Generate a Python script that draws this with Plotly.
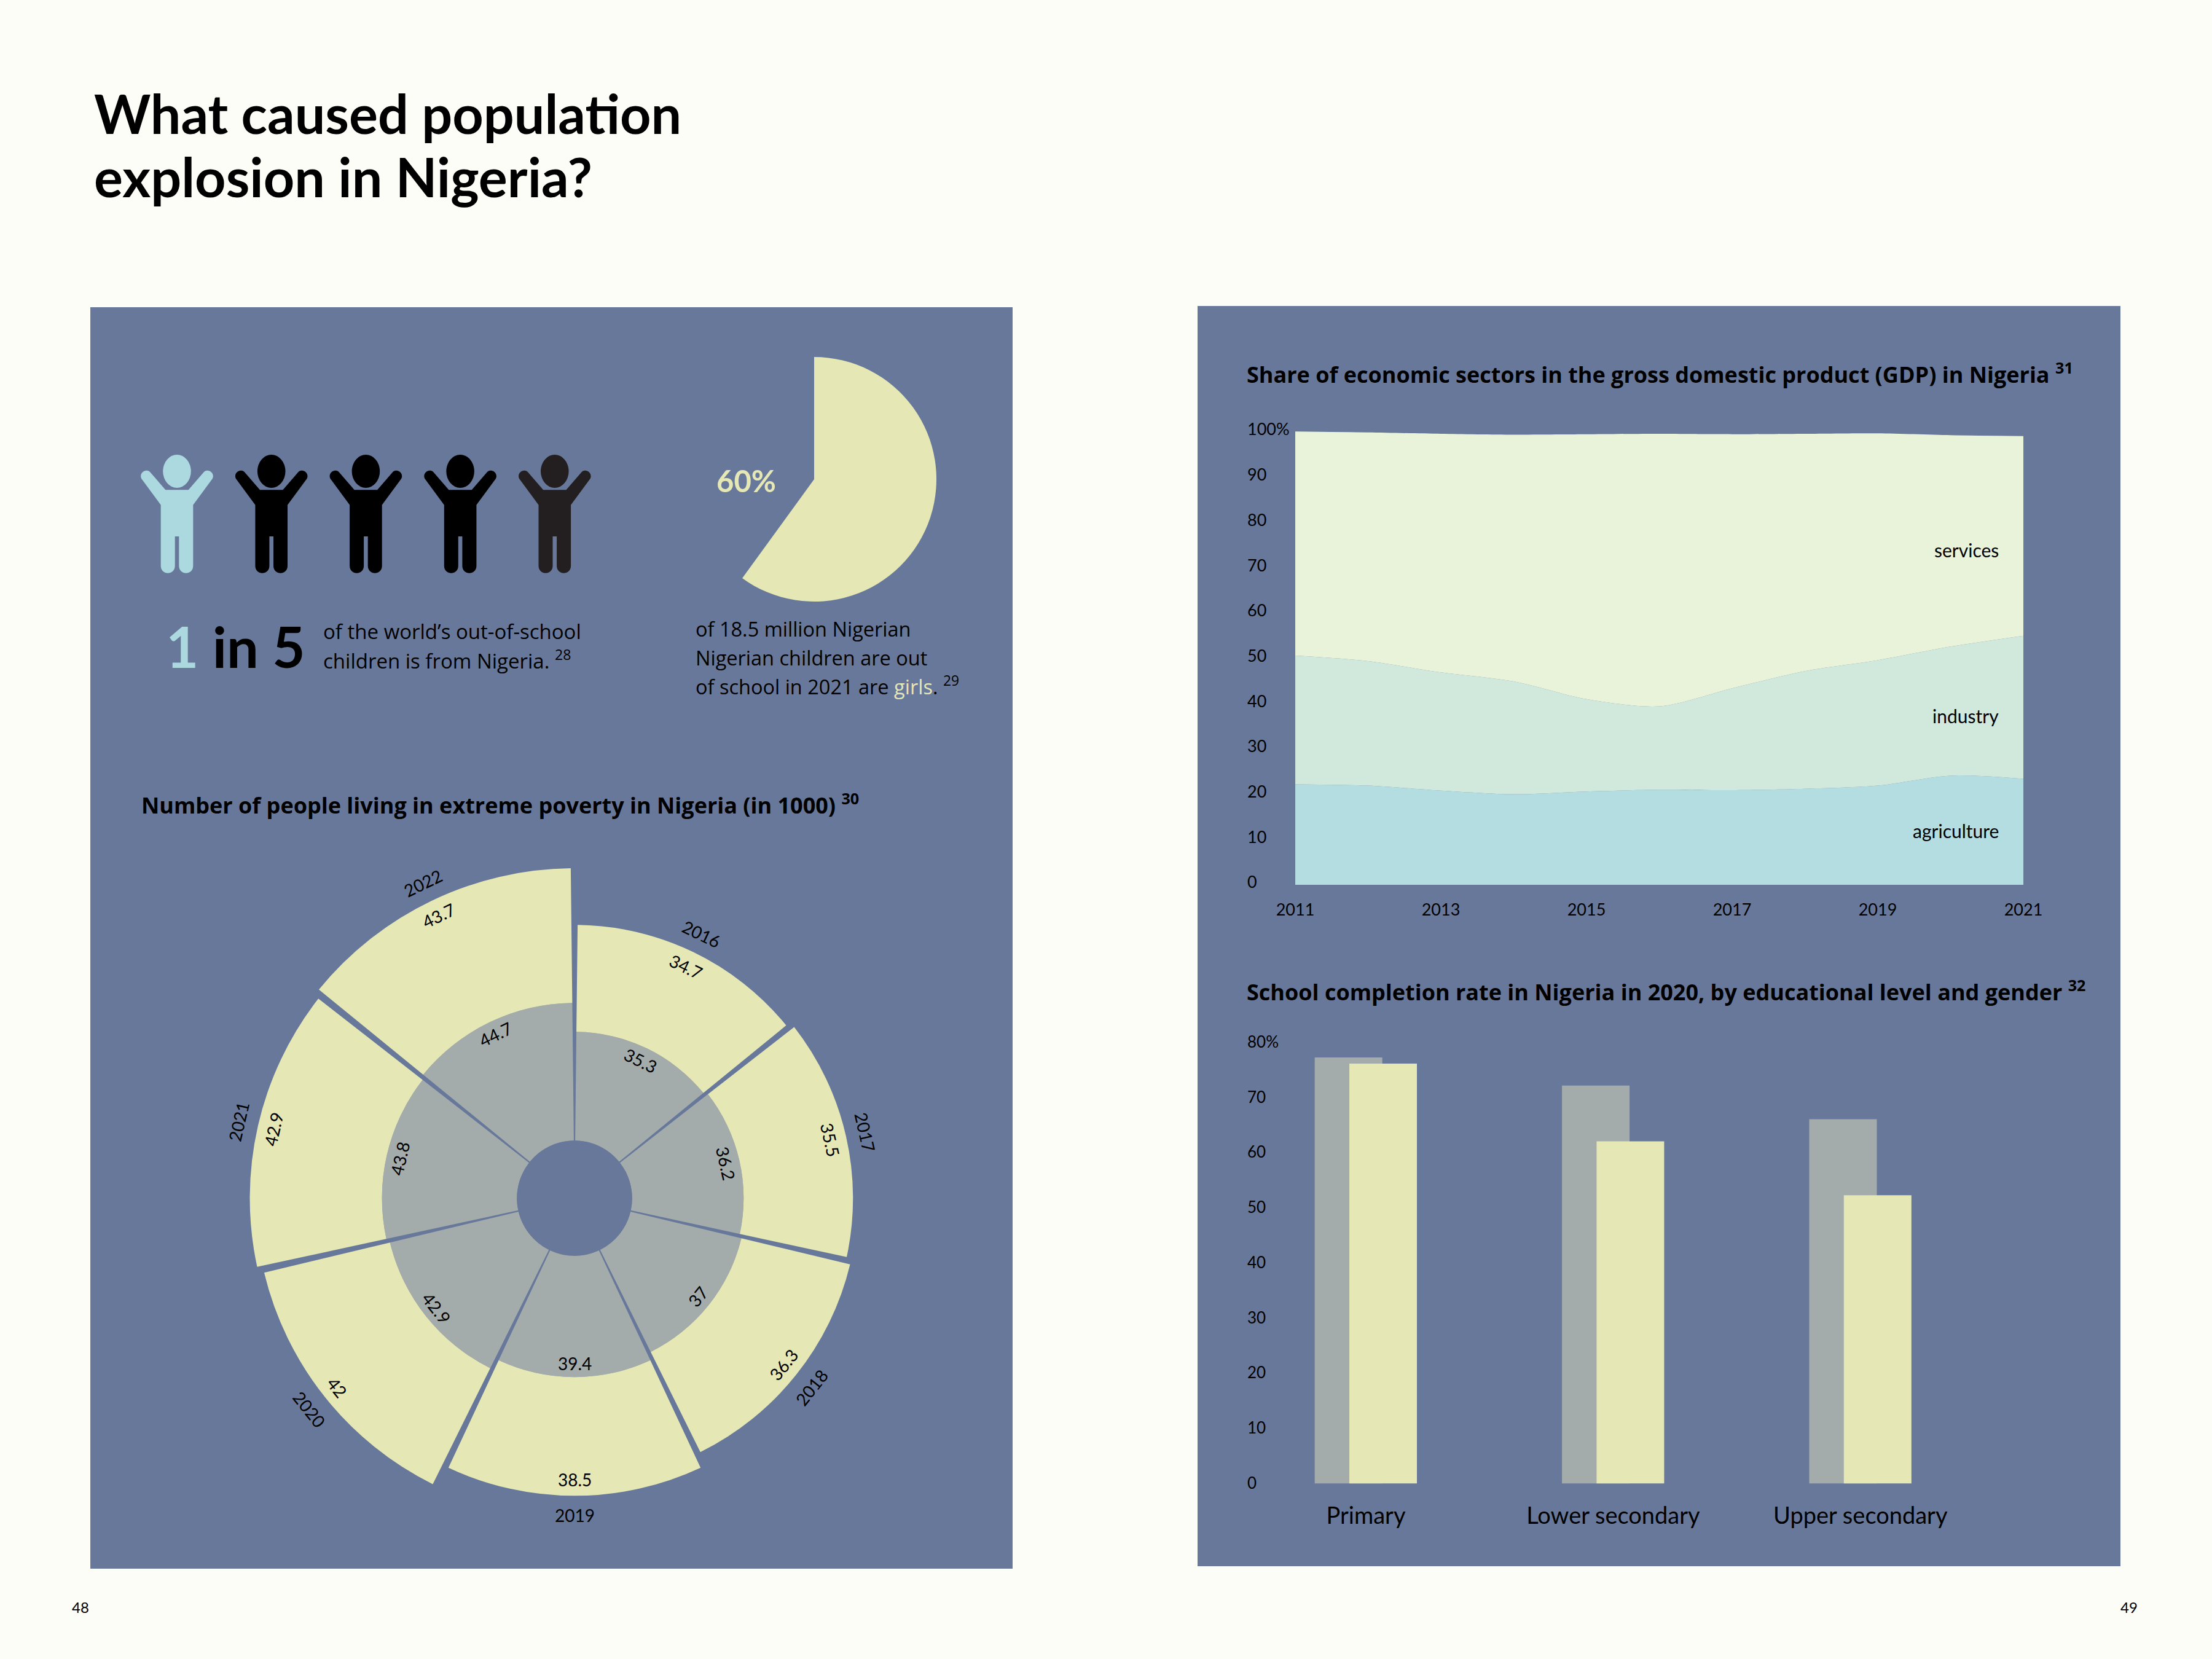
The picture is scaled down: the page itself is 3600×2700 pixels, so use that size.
import math
import plotly.graph_objects as go

W, H = 3600, 2700
PAGE_BG = "#fdfdf8"
PANEL = "#68789a"
YELLOW = "#e5e7b5"
GRAY = "#a3abab"
LIGHTBLUE = "#acd8df"
AGRI_C = "#b3dde0"
IND_C = "#d0e9dc"
SERV_C = "#e9f3da"
FONT = "Lato"
FONT2 = "Open Sans"

# ---------------- data ----------------
CHILDREN_TOTAL = 5
CHILDREN_HIGHLIGHT = 1
GIRLS_SHARE = 60

POV_YEARS = ["2016", "2017", "2018", "2019", "2020", "2021", "2022"]
POV_INNER = [35.3, 36.2, 37, 39.4, 42.9, 43.8, 44.7]
POV_OUTER = [34.7, 35.5, 36.3, 38.5, 42, 42.9, 43.7]

GDP_YEARS = [2011, 2012, 2013, 2014, 2015, 2016, 2017, 2018, 2019, 2020, 2021]
GDP_AGRI = [22.2, 21.9, 20.8, 20.0, 20.6, 21.0, 20.9, 21.2, 21.9, 24.1, 23.4]
GDP_IND = [28.4, 27.5, 26.1, 24.9, 20.4, 18.4, 22.5, 26.0, 27.7, 28.5, 31.6]
GDP_SERV = [49.5, 50.5, 52.7, 54.5, 58.5, 60.2, 56.1, 52.4, 50.1, 46.7, 44.1]
GDP_YTICKS = [0, 10, 20, 30, 40, 50, 60, 70, 80, 90, 100]
GDP_YTEXT = ["0", "10", "20", "30", "40", "50", "60", "70", "80", "90", "100%"]
GDP_XTICKS = [2011, 2013, 2015, 2017, 2019, 2021]

SCHOOL_LEVELS = ["Primary", "Lower secondary", "Upper secondary"]
SCHOOL_GRAY = [77.3, 72.2, 66.1]
SCHOOL_YELLOW = [76.2, 62.1, 52.3]
SCHOOL_YTICKS = [0, 10, 20, 30, 40, 50, 60, 70, 80]
SCHOOL_YTEXT = ["0", "10", "20", "30", "40", "50", "60", "70", "80%"]


def px(x):
    return x / W


def py(y):
    return 1 - y / H


def ann(text, x, y, size, color="#000000", xanchor="left", yanchor="middle",
        angle=0, bold=False, family=FONT):
    if bold:
        text = "<b>" + text + "</b>"
    return dict(text=text, x=px(x), y=py(y), xref="paper", yref="paper",
                showarrow=False, font=dict(family=family, size=size, color=color),
                xanchor=xanchor, yanchor=yanchor, textangle=angle)


fig = go.Figure()
shapes = []
annotations = []

# panels
shapes.append(dict(type="rect", xref="paper", yref="paper", layer="below",
                   x0=px(147), x1=px(1648), y0=py(2553), y1=py(500),
                   fillcolor=PANEL, line=dict(width=0)))
shapes.append(dict(type="rect", xref="paper", yref="paper", layer="below",
                   x0=px(1949), x1=px(3451), y0=py(2549), y1=py(498),
                   fillcolor=PANEL, line=dict(width=0)))


# ---------------- children icons ----------------
def child_path(cx):
    pts = [
        ("M", [(-26.3, 821.7)]),
        ("L", [(-56.7, 780.6)]),
        ("C", [(-64.1, 771.2), (-50.1, 760.0), (-42.7, 769.4)]),
        ("L", [(-18.7, 797.3)]),
        ("L", [(18.7, 797.3)]),
        ("L", [(42.7, 769.4)]),
        ("C", [(50.1, 760.0), (64.1, 771.2), (56.7, 780.6)]),
        ("L", [(26.3, 821.7)]),
        ("L", [(26.3, 921)]),
        ("C", [(26.3, 936.5), (3.3, 936.5), (3.3, 921)]),
        ("L", [(3.3, 873)]),
        ("L", [(-3.3, 873)]),
        ("L", [(-3.3, 921)]),
        ("C", [(-3.3, 936.5), (-26.3, 936.5), (-26.3, 921)]),
    ]
    s = ""
    for cmd, ps in pts:
        s += cmd + " " + " ".join(f"{px(cx + dx):.6f},{py(yy):.6f}" for dx, yy in ps) + " "
    return s + "Z"


for i in range(CHILDREN_TOTAL):
    cx = 288 + i * 153.7
    if i < CHILDREN_HIGHLIGHT:
        col = LIGHTBLUE
    elif i == CHILDREN_TOTAL - 1:
        col = "#231f20"
    else:
        col = "#000000"
    shapes.append(dict(type="circle", xref="paper", yref="paper",
                       x0=px(cx - 22.8), x1=px(cx + 22.8), y0=py(794), y1=py(740),
                       fillcolor=col, line=dict(width=0)))
    shapes.append(dict(type="path", xref="paper", yref="paper", path=child_path(cx),
                       fillcolor=col, line=dict(width=0)))

# ---------------- pie 60% ----------------
PCX, PCY, PR = 1325, 780, 199
fig.add_trace(go.Pie(
    values=[GIRLS_SHARE, 100 - GIRLS_SHARE], sort=False, direction="clockwise",
    rotation=0, textinfo="none", hoverinfo="skip", showlegend=False,
    automargin=False,
    marker=dict(colors=[YELLOW, "rgba(0,0,0,0)"], line=dict(width=0)),
    domain=dict(x=[px(PCX - PR), px(PCX + PR)], y=[py(PCY + PR), py(PCY - PR)])))

# ---------------- polar ----------------
CX, CY = 935, 1950
POLAR_R = 545
HOLE = 0.172
RMAX = 90
inner_px = HOLE * POLAR_R
kpx = (POLAR_R - inner_px) / RMAX
n = len(POV_YEARS)
step = 360 / n
THETA = [i * step + step / 2 for i in range(n)]
fig.add_trace(go.Barpolar(r=POV_INNER, theta=THETA, width=[step - 1.3] * n,
                          marker=dict(color=GRAY, line=dict(width=0)),
                          hoverinfo="skip", showlegend=False, subplot="polar"))
fig.add_trace(go.Barpolar(r=POV_OUTER, theta=THETA, width=[step - 1.3] * n,
                          marker=dict(color=YELLOW, line=dict(width=0)),
                          hoverinfo="skip", showlegend=False, subplot="polar"))


def polar_xy(theta, rpx):
    a = math.radians(theta)
    return CX + rpx * math.sin(a), CY - rpx * math.cos(a)


def tang(theta):
    if theta < 90:
        return theta
    if theta > 270:
        return theta - 360
    return theta - 180


for th, yr, g, o in zip(THETA, POV_YEARS, POV_INNER, POV_OUTER):
    ang = tang(th)
    x, y = polar_xy(th, inner_px + kpx * g - 22)
    annotations.append(ann(str(g), x, y, 28, xanchor="center", angle=ang))
    x, y = polar_xy(th, inner_px + kpx * (g + o) - 26)
    annotations.append(ann(str(o), x, y, 28, xanchor="center", angle=ang))
    x, y = polar_xy(th, inner_px + kpx * (g + o) + 32)
    annotations.append(ann(yr, x, y, 28, xanchor="center", angle=ang))

# ---------------- GDP stacked area ----------------
GDP_Y0 = 1440
GDP_UNIT = 7.37
for name, vals, col in [("agriculture", GDP_AGRI, AGRI_C),
                        ("industry", GDP_IND, IND_C),
                        ("services", GDP_SERV, SERV_C)]:
    fig.add_trace(go.Scatter(x=GDP_YEARS, y=vals, stackgroup="gdp", mode="lines",
                             line=dict(width=0, shape="spline", smoothing=0.8),
                             fillcolor=col, hoverinfo="skip", showlegend=False,
                             xaxis="x", yaxis="y", name=name))

for label, yv in [("services", 73.9), ("industry", 37.3), ("agriculture", 11.9)]:
    annotations.append(dict(text=label, x=2020.68, y=yv, xref="x", yref="y",
                            showarrow=False, xanchor="right", yanchor="middle",
                            font=dict(family=FONT, size=30, color="#000")))

# ---------------- school completion bars ----------------
B_Y0 = 2414.5
B_UNIT = 8.97
B_C0 = 2223
B_STEP = 402.4
bw = 110 / B_STEP
fig.add_trace(go.Bar(x=SCHOOL_LEVELS, y=SCHOOL_GRAY, width=bw, offset=-83.3 / B_STEP,
                     marker=dict(color=GRAY, line=dict(width=0)), hoverinfo="skip",
                     showlegend=False, xaxis="x2", yaxis="y2"))
fig.add_trace(go.Bar(x=SCHOOL_LEVELS, y=SCHOOL_YELLOW, width=bw, offset=-27 / B_STEP,
                     marker=dict(color=YELLOW, line=dict(width=0)), hoverinfo="skip",
                     showlegend=False, xaxis="x2", yaxis="y2"))

# ---------------- text ----------------
annotations += [
    ann("What caused population", 151, 184, 88, bold=True),
    ann("explosion in Nigeria?", 151, 287, 88, bold=True),
    ann("<span style='color:%s'>1</span> in 5" % LIGHTBLUE, 268, 1052, 92, bold=True),
    ann("of the world’s out-of-school", 524, 1027, 33, family=FONT2),
    ann("children is from Nigeria. <sup>28</sup>", 524, 1073, 33, family=FONT2),
    ann("60%", 1214, 782, 49, color=YELLOW, xanchor="center", bold=True),
    ann("of 18.5 million Nigerian", 1130, 1024, 32.5, family=FONT2),
    ann("Nigerian children are out", 1130, 1070, 32.5, family=FONT2),
    ann("of school in 2021 are <span style='color:%s'>girls</span>. <sup>29</sup>" % YELLOW,
        1130, 1116, 32.5, family=FONT2),
    ann("<b>Number of people living in extreme poverty in Nigeria (in 1000)</b> <sup><b>30</b></sup>",
        228, 1308, 36, family=FONT2),
    ann("<b>Share of economic sectors in the gross domestic product (GDP) in Nigeria</b> <sup><b>31</b></sup>",
        2027, 607, 36, family=FONT2),
    ann("<b>School completion rate in Nigeria in 2020, by educational level and gender</b> <sup><b>32</b></sup>",
        2027, 1612, 36, family=FONT2),
    ann("48", 131, 2615, 24, xanchor="center"),
    ann("49", 3465, 2615, 24, xanchor="center"),
]

axis_common = dict(showgrid=False, zeroline=False, showline=False, ticks="",
                   fixedrange=True, automargin=False)

fig.update_layout(
    width=W, height=H,
    margin=dict(l=0, r=0, t=0, b=0, pad=0, autoexpand=False),
    paper_bgcolor=PAGE_BG, plot_bgcolor="rgba(0,0,0,0)", showlegend=False,
    font=dict(family=FONT, color="#000"),
    shapes=shapes, annotations=annotations, barmode="overlay",
    polar=dict(domain=dict(x=[px(CX - POLAR_R), px(CX + POLAR_R)],
                           y=[py(CY + POLAR_R), py(CY - POLAR_R)]),
               hole=HOLE, bgcolor="rgba(0,0,0,0)", barmode="stack",
               radialaxis=dict(range=[0, RMAX], visible=False),
               angularaxis=dict(rotation=90, direction="clockwise", visible=False,
                                showgrid=False, showline=False, showticklabels=False,
                                ticks="")),
    xaxis=dict(domain=[px(2108), px(3293)], range=[2011, 2021], anchor="y",
               tickvals=GDP_XTICKS, ticklabelstandoff=22,
               tickfont=dict(family=FONT, size=27, color="#000"), **axis_common),
    yaxis=dict(domain=[py(GDP_Y0), py(GDP_Y0 - 101 * GDP_UNIT)], range=[0, 101],
               anchor="free", position=px(2024), ticklabelposition="inside",
               tickvals=GDP_YTICKS, ticktext=GDP_YTEXT, ticklabelshift=-4,
               ticklabeloverflow="allow", ticklabelstandoff=2,
               tickfont=dict(family=FONT, size=27, color="#000"), **axis_common),
    xaxis2=dict(domain=[px(B_C0 - 0.5 * B_STEP), px(B_C0 + 2.6 * B_STEP)],
                range=[-0.5, 2.6], anchor="y2", type="category",
                ticklabelstandoff=26,
                tickfont=dict(family=FONT, size=38, color="#000"), **axis_common),
    yaxis2=dict(domain=[py(B_Y0), py(B_Y0 - 80 * B_UNIT)], range=[0, 80],
                anchor="free", position=px(2024), ticklabelposition="inside",
                tickvals=SCHOOL_YTICKS, ticktext=SCHOOL_YTEXT, ticklabelshift=-1,
                ticklabeloverflow="allow", ticklabelstandoff=2,
                tickfont=dict(family=FONT, size=26, color="#000"), **axis_common),
)

fig.write_html("out.html", config={"displayModeBar": False, "responsive": False},
               post_script="document.body.style.margin='0px';"
                           "document.body.style.background='%s';" % PAGE_BG)
